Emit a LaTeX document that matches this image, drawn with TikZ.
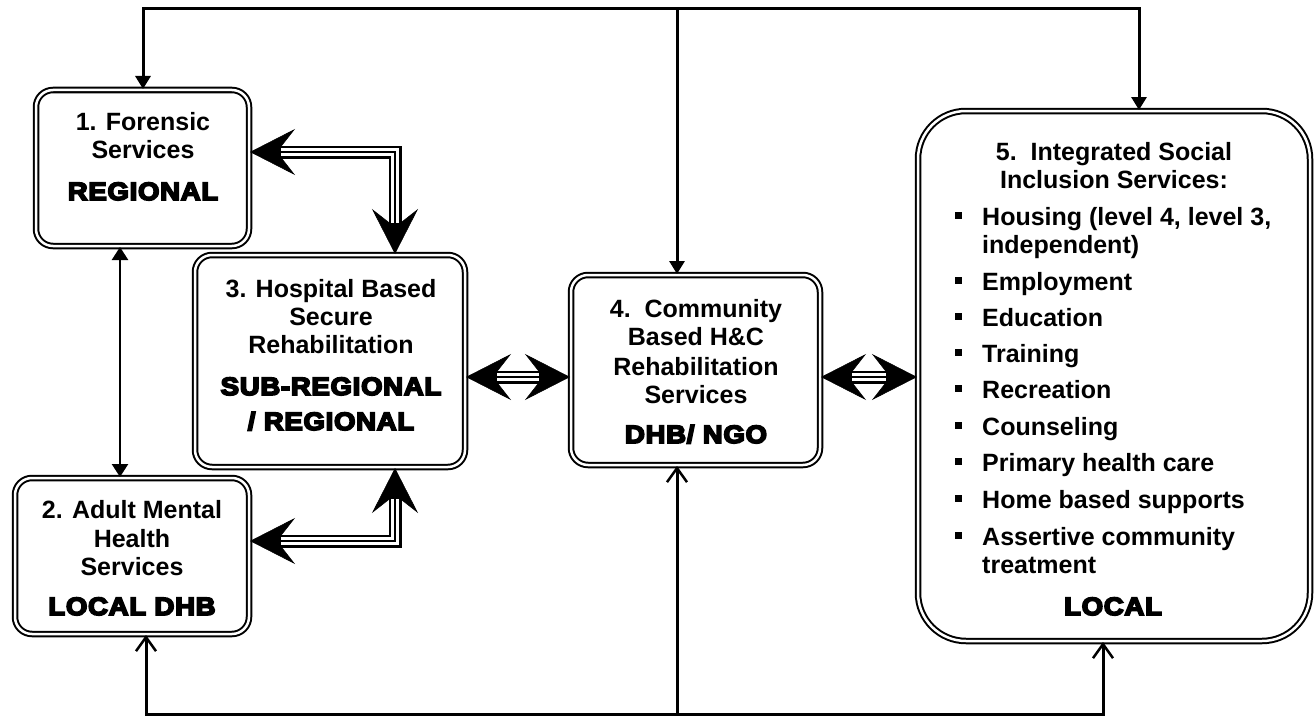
\documentclass[tikz,border=0pt]{standalone}
\usepackage{fontspec}
\setmainfont{Liberation Sans}
\newfontfamily\heavyfont{Liberation Sans Bold}[FakeBold=7,FakeStretch=1.1,LetterSpace=3]
\usetikzlibrary{arrows.meta}
\begin{document}
\begin{tikzpicture}[x=1pt,y=-1pt,
  box/.style={draw, double, line width=2pt, double distance=2.5pt, rounded corners=17pt, inner sep=0pt},
  txt/.style={anchor=base, inner sep=0pt, font=\fontsize{25}{29}\selectfont\bfseries},
  hv/.style={anchor=base, inner sep=0pt, font=\fontsize{25}{29}\selectfont\heavyfont},
  item/.style={anchor=base west, inner sep=0pt, font=\fontsize{25}{29}\selectfont\bfseries},
  conn/.style={line width=3pt, line join=miter},
  filltip/.style={conn, -{Triangle[length=13pt,width=15pt]}},
  filltips/.style={conn, {Triangle[length=13pt,width=15pt]}-{Triangle[length=13pt,width=15pt]}},
  opentips/.style={conn, {Straight Barb[length=14pt,width=20pt,line width=2.5pt]}-{Straight Barb[length=14pt,width=20pt,line width=2.5pt]}},
  opentip/.style={conn, -{Straight Barb[length=14pt,width=20pt,line width=2.5pt]}},
  vtips/.style={line width=2.5pt, {Triangle[length=13pt,width=16pt]}-{Triangle[length=13pt,width=16pt]}},
  tri/.style={line width=13pt, line join=miter,
    {Stealth[length=45pt,width=46pt,inset=18pt,line width=0.5pt]}-{Stealth[length=45pt,width=46pt,inset=18pt,line width=0.5pt]},
    postaction={draw, white, line width=8pt, line join=miter, -, shorten <=31pt, shorten >=31pt},
    postaction={draw, black, line width=2.5pt, line join=miter, -, shorten <=31pt, shorten >=31pt}}
]
\useasboundingbox (0,0) rectangle (1315,717);

% boxes
\node[box, minimum width=213pt, minimum height=156pt] (box1) at (142.5,168) {};
\node[box, minimum width=234pt, minimum height=156pt] (box2) at (132,556) {};
\node[box, minimum width=270pt, minimum height=212pt] (box3) at (330,361) {};
\node[box, minimum width=249pt, minimum height=190pt] (box4) at (695.5,370) {};
\node[box, rounded corners=48pt, minimum width=392pt, minimum height=530pt] (box5) at (1114,376) {};

% box 1 text
\node[txt] (t1a) at (143,130) {1. Forensic};
\node[txt] (t1b) at (143,158) {Services};
\node[hv]  (t1c) at (143,200) {REGIONAL};
% box 2 text
\node[txt] (t2a) at (132,518) {2. Adult Mental};
\node[txt] (t2b) at (132,547) {Health};
\node[txt] (t2c) at (132,575) {Services};
\node[hv]  (t2d) at (132,615) {LOCAL DHB};
% box 3 text
\node[txt] (t3a) at (331,297) {3. Hospital Based};
\node[txt] (t3b) at (331,325) {Secure};
\node[txt] (t3c) at (331,353) {Rehabilitation};
\node[hv]  (t3d) at (331,395) {SUB-REGIONAL};
\node[hv]  (t3e) at (331,430) {/ REGIONAL};
% box 4 text
\node[txt] (t4a) at (696,317) {4.\ \ Community};
\node[txt] (t4b) at (696,345) {Based H\&C};
\node[txt] (t4c) at (696,375) {Rehabilitation};
\node[txt] (t4d) at (696,403) {Services};
\node[hv]  (t4e) at (696,443) {DHB/ NGO};
% box 5 text
\node[txt] (t5a) at (1114,160) {5.\ \ Integrated Social};
\node[txt] (t5b) at (1114,188) {Inclusion Services:};
\node[item] (i1) at (955,225) {\rule[6pt]{7pt}{7pt}\hspace{20pt}Housing (level 4, level 3,};
\node[item] (i1b) at (982,253) {independent)};
\node[item] (i2) at (955,290) {\rule[6pt]{7pt}{7pt}\hspace{20pt}Employment};
\node[item] (i3) at (955,326) {\rule[6pt]{7pt}{7pt}\hspace{20pt}Education};
\node[item] (i4) at (955,362) {\rule[6pt]{7pt}{7pt}\hspace{20pt}Training};
\node[item] (i5) at (955,398) {\rule[6pt]{7pt}{7pt}\hspace{20pt}Recreation};
\node[item] (i6) at (955,435) {\rule[6pt]{7pt}{7pt}\hspace{20pt}Counseling};
\node[item] (i7) at (955,471) {\rule[6pt]{7pt}{7pt}\hspace{20pt}Primary health care};
\node[item] (i8) at (955,508) {\rule[6pt]{7pt}{7pt}\hspace{20pt}Home based supports};
\node[item] (i9) at (955,545) {\rule[6pt]{7pt}{7pt}\hspace{20pt}Assertive community};
\node[item] (i9b) at (982,573) {treatment};
\node[hv]  (t5c) at (1113,615) {LOCAL};

% top connector
\coordinate (tl) at (143,9);
\coordinate (tm) at (677,9);
\coordinate (tr) at (1139,9);
\draw[filltips] (tl |- box1.north) -- (tl) -- (tr) -- (tr |- box5.north);
\draw[filltip] (tm) -- (tm |- box4.north);

% bottom connector
\coordinate (bl) at (146,714.5);
\coordinate (bm) at (677,714.5);
\coordinate (br) at (1103,714.5);
\draw[opentips] (bl |- box2.south) -- (bl) -- (br) -- (br |- box5.south);
\draw[opentip] (bm) -- (bm |- box4.south);

% box1 <-> box2
\coordinate (k12) at (120,0);
\draw[vtips] (k12 |- box1.south) -- (k12 |- box2.north);

% triple connectors
\coordinate (k13) at (395,152);
\draw[tri] (k13 -| box1.east) -- (k13) -- (k13 |- box3.north);
\coordinate (k23) at (395,541);
\draw[tri] (k23 -| box2.east) -- (k23) -- (k23 |- box3.south);
\coordinate (k34) at (0,377);
\draw[tri] (k34 -| box3.east) -- (k34 -| box4.west);
\draw[tri] (k34 -| box4.east) -- (k34 -| box5.west);
\end{tikzpicture}
\end{document}
